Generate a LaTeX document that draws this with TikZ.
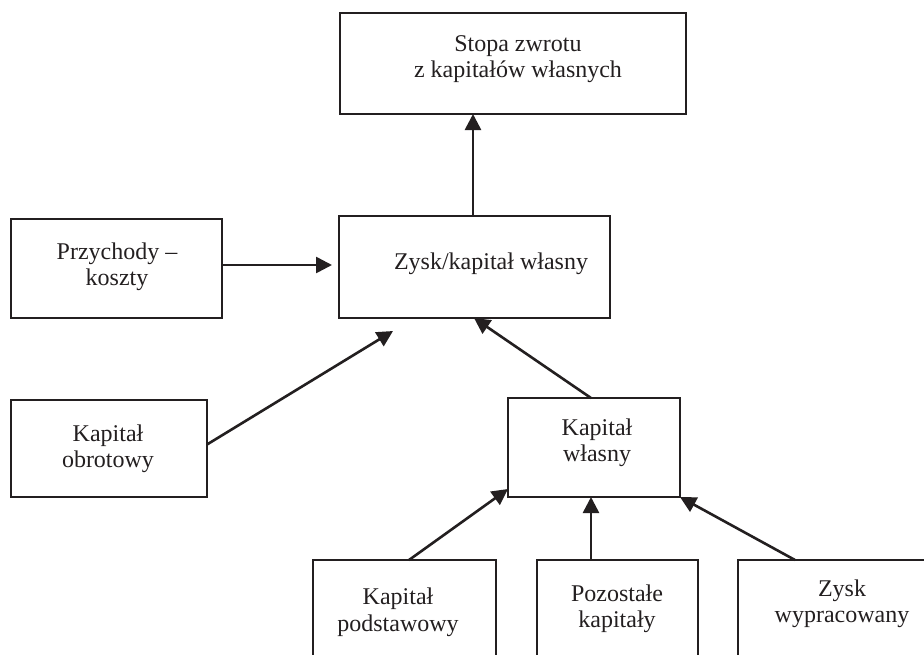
\documentclass[tikz,border=0pt]{standalone}
\usepackage{fontspec}
\setmainfont{Liberation Serif}
\usetikzlibrary{arrows.meta,calc}
\definecolor{ink}{HTML}{231F20}
\newcommand{\twoline}[2]{\begin{tabular}[t]{@{}c@{}}#1\\#2\end{tabular}}
\begin{document}
\begin{tikzpicture}[x=1pt,y=-1pt,
  box/.style={draw=ink,line width=1.6pt,inner sep=0pt,outer sep=0pt,anchor=north west},
  lbl/.style={anchor=base,inner sep=0pt,text=ink,font=\fontsize{24}{26.5}\selectfont},
  arr/.style={draw=ink,line width=2.6pt,-{Triangle[length=16pt,width=16pt]}}]
\useasboundingbox (0,0) rectangle (924,654);
\fill[white] (0,0) rectangle (924,654);
% boxes
\node[box,minimum width=346pt,minimum height=101pt] (stopa) at (340,13) {};
\node[box,minimum width=271pt,minimum height=102pt] (zysk) at (339,216) {};
\node[box,minimum width=211pt,minimum height=99pt] (przych) at (11,219) {};
\node[box,minimum width=196pt,minimum height=97pt] (obrot) at (11,400) {};
\node[box,minimum width=172pt,minimum height=99pt] (kw) at (508,398) {};
\node[box,minimum width=183pt,minimum height=120pt] (podst) at (313,560) {};
\node[box,minimum width=161pt,minimum height=120pt] (pozost) at (537,560) {};
\node[box,minimum width=230pt,minimum height=120pt] (zyskw) at (738,560) {};
% texts
\node[lbl] (tstopa) at (518,51) {\twoline{Stopa zwrotu}{z kapitałów własnych}};
\node[lbl] (tzysk) at (491,269) {Zysk/kapitał własny};
\node[lbl] (tprzych) at (117,259) {\twoline{Przychody –}{koszty}};
\node[lbl] (tobrot) at (108,441) {\twoline{Kapitał}{obrotowy}};
\node[lbl] (tkw) at (597,435) {\twoline{Kapitał}{własny}};
\node[lbl] (tpodst) at (398,604.5) {\twoline{Kapitał}{podstawowy}};
\node[lbl] (tpozost) at (617,601) {\twoline{Pozostałe}{kapitały}};
\node[lbl] (tzyskw) at (842,596) {\twoline{Zysk}{wypracowany}};
% connector helpers
\coordinate (c1) at (473,0);
\coordinate (t2) at (332,265);
\coordinate (t3) at (393,331);
\coordinate (c4a) at (591,0);
\coordinate (c4b) at (474,0);
\coordinate (c5) at (409,0);
\coordinate (c6) at (591,0);
\coordinate (c7) at (795,0);
% connectors
\draw[arr] (zysk.north -| c1) -- (stopa.south -| c1);
\draw[arr] (przych.east |- t2) -- (t2);
\draw[arr] ($(obrot.east)+(0,-4)$) -- (t3);
\draw[arr] (kw.north -| c4a) -- (zysk.south -| c4b);
\draw[arr] (podst.north -| c5) -- ($(kw.south west)+(0,-8)$);
\draw[arr] (pozost.north -| c6) -- (kw.south -| c6);
\draw[arr] (zyskw.north -| c7) -- (kw.south east);
\end{tikzpicture}
\end{document}
